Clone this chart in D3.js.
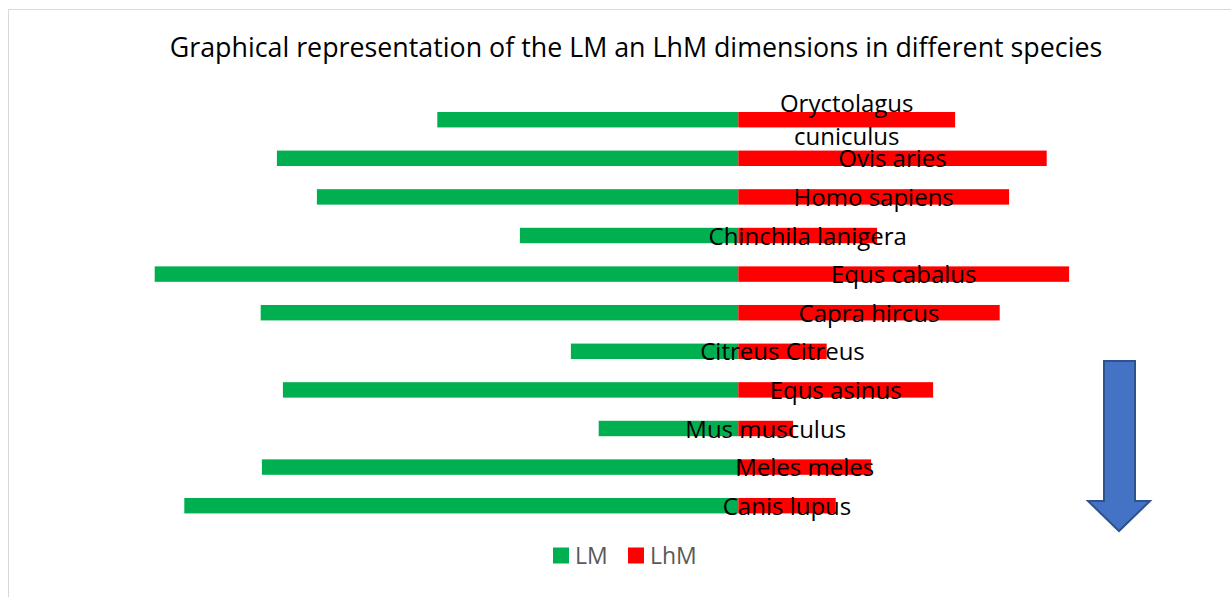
<!DOCTYPE html>
<html>
<head>
<meta charset="utf-8">
<script src="https://cdn.jsdelivr.net/npm/d3@7"></script>
<style>
  body { margin: 0; background: #fff; }
  svg { display: block; }
</style>
</head>
<body>
<div id="viz"></div>
<script>
const width = 1231, height = 597;

// species, top to bottom
const species = [
  "Oryctolagus cuniculus", "Ovis aries", "Homo sapiens", "Chinchila lanigera",
  "Equs cabalus", "Capra hircus", "Citreus Citreus", "Equs asinus",
  "Mus musculus", "Meles meles", "Canis lupus"
];
// LM drawn to the left of zero, LhM to the right
const lmValues  = [15.05, 23.07, 21.07, 10.92, 29.18, 23.88, 8.37, 22.77, 6.98, 23.82, 27.7];
const lhmValues = [10.84, 15.42, 13.54, 6.94, 16.54, 13.07, 4.42, 9.74, 2.74, 6.64, 4.87];
const seriesNames = ["LM", "LhM"];
const seriesColors = ["#00b050", "#ff0000"];

const data = species.map((s, i) => ({ name: s, lm: lmValues[i], lhm: lhmValues[i] }));

const svg = d3.select("#viz").append("svg")
  .attr("width", width)
  .attr("height", height);

// chart area border
svg.append("rect")
  .attr("x", 8.5).attr("y", 9.5)
  .attr("width", width).attr("height", height)
  .attr("fill", "#fff")
  .attr("stroke", "#d9d9d9");

const font = "'Open Sans', 'Noto Sans', sans-serif";

svg.append("text")
  .attr("x", 636)
  .attr("y", 57)
  .attr("text-anchor", "middle")
  .attr("font-family", font)
  .attr("font-size", "26.8px")
  .attr("fill", "#000")
  .text("Graphical representation of the LM an LhM dimensions in different species");

const x = d3.scaleLinear()
  .domain([-30, 20])
  .range([138.3, 1138.3]);

const y = d3.scaleBand()
  .domain(species)
  .range([100.4, 525])
  .paddingInner(0.6)
  .paddingOuter(0.3);

const rows = svg.append("g").selectAll("g")
  .data(data)
  .enter().append("g");

rows.append("rect")
  .attr("x", d => x(-d.lm))
  .attr("y", d => y(d.name))
  .attr("width", d => x(0) - x(-d.lm))
  .attr("height", y.bandwidth())
  .attr("fill", seriesColors[0]);

rows.append("rect")
  .attr("x", x(0))
  .attr("y", d => y(d.name))
  .attr("width", d => x(d.lhm) - x(0))
  .attr("height", y.bandwidth())
  .attr("fill", seriesColors[1]);

// labels centred on the LhM bar; long names wrap on two lines
rows.each(function(d) {
  const cx = (x(0) + x(d.lhm)) / 2;
  const cy = y(d.name) + y.bandwidth() / 2 + 9;
  const words = d.name.split(" ");
  const lines = d.name.length > 18 ? [words[0], words.slice(1).join(" ")] : [d.name];
  const lh = 33;
  const t = d3.select(this).append("text")
    .attr("text-anchor", "middle")
    .attr("font-family", font)
    .attr("font-size", "24px")
    .attr("fill", "#000");
  lines.forEach((ln, j) => {
    t.append("tspan")
      .attr("x", cx)
      .attr("y", cy + (j - (lines.length - 1) / 2) * lh)
      .text(ln);
  });
});

// legend
const legend = svg.append("g").attr("transform", "translate(553, 547.5)");
const legendX = [0, 75];
seriesNames.forEach((name, i) => {
  const g = legend.append("g").attr("transform", `translate(${legendX[i]}, 0)`);
  g.append("rect")
    .attr("width", 16).attr("height", 16)
    .attr("fill", seriesColors[i]);
  g.append("text")
    .attr("x", 22).attr("y", 16)
    .attr("font-family", font)
    .attr("font-size", "23px")
    .attr("fill", "#595959")
    .text(name);
});

// down arrow shape at the right
const arrow = d3.path();
arrow.moveTo(1104, 361);
arrow.lineTo(1135, 361);
arrow.lineTo(1135, 501);
arrow.lineTo(1150, 501);
arrow.lineTo(1119, 531);
arrow.lineTo(1088, 501);
arrow.lineTo(1104, 501);
arrow.closePath();
svg.append("path")
  .attr("d", arrow.toString())
  .attr("fill", "#4472c4")
  .attr("stroke", "#2f528f")
  .attr("stroke-width", 2)
  .attr("stroke-linejoin", "miter");
</script>
</body>
</html>
